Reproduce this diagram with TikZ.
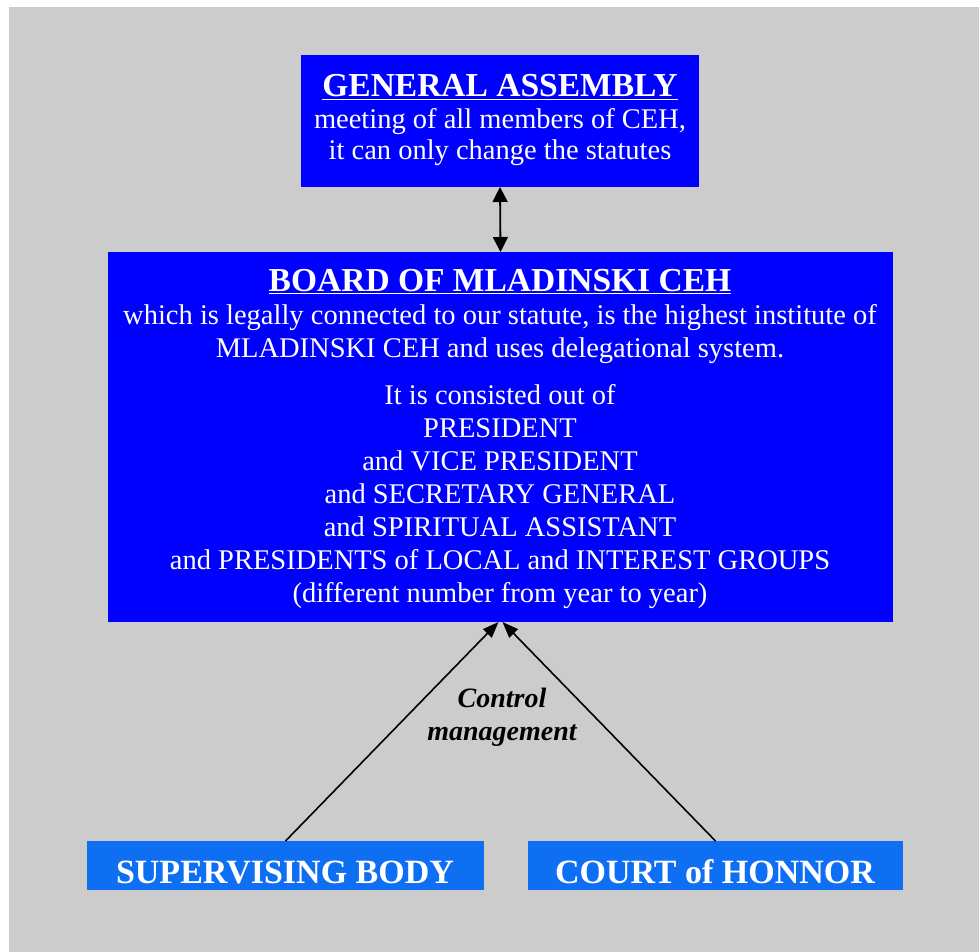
\documentclass[tikz,border=0pt]{standalone}
\usepackage{fontspec}
\setmainfont{Liberation Serif}
\usetikzlibrary{arrows.meta}
\definecolor{bggray}{HTML}{CCCCCC}
\definecolor{boardblue}{HTML}{0000FF}
\definecolor{lightblue}{HTML}{0F6FF2}
\begin{document}
\begin{tikzpicture}[x=1pt,y=-1pt,
  boxbase/.style={anchor=north west, inner sep=0pt, outer sep=0pt},
  darkbox/.style={boxbase, fill=boardblue},
  lightbox/.style={boxbase, fill=lightblue},
  txt/.style={text=white, inner sep=0pt, outer sep=0pt, align=center, anchor=base},
  titlefont/.style={font=\fontsize{34}{33}\selectfont\bfseries},
  arr/.style={line width=1.6pt, draw=black, -{Triangle[length=16pt,width=12pt]}},
  dblarr/.style={line width=1.8pt, draw=black, {Triangle[length=15pt,width=15pt]}-{Triangle[length=15pt,width=15pt]}}
]
\useasboundingbox (0,0) rectangle (979,952);
\fill[white] (0,0) rectangle (979,952);
\fill[bggray] (9,7) rectangle (979,952);

% boxes
\node[darkbox, minimum width=398pt, minimum height=132pt] (ga) at (301,55) {};
\node[darkbox, minimum width=785pt, minimum height=370pt] (board) at (108,252) {};
\node[lightbox, minimum width=397pt, minimum height=49pt] (sup) at (87,841) {};
\node[lightbox, minimum width=375pt, minimum height=49pt] (court) at (528,841) {};

% texts (anchor base = baseline of the last line)
\node[txt, font=\fontsize{28.5}{31.5}\selectfont] (gatext) at (500,160)
  {{\fontsize{33.5}{31.5}\selectfont\bfseries\underline{GENERAL ASSEMBLY}}\\
   meeting of all members of CEH,\\
   it can only change the statutes};
\node[txt, font=\fontsize{28.5}{33}\selectfont] (boardtext) at (500,602)
  {{\fontsize{33.5}{33}\selectfont\bfseries\underline{BOARD OF MLADINSKI CEH}}\\
   which is legally connected to our statute, is the highest institute of\\
   MLADINSKI CEH and uses delegational system.\\[14pt]
   It is consisted out of\\
   PRESIDENT\\
   and VICE PRESIDENT\\
   and SECRETARY GENERAL\\
   and SPIRITUAL ASSISTANT\\
   and PRESIDENTS of LOCAL and INTEREST GROUPS\\
   (different number from year to year)};
\node[txt, titlefont] (suptext) at (285,883) {SUPERVISING BODY};
\node[txt, titlefont] (courttext) at (715,883) {COURT of HONNOR};

% connectors
\draw[dblarr] (ga.south) -- (board.north);
\draw[arr] (sup.north) -- ([xshift=-2pt]board.south);
\draw[arr] (court.north) -- ([xshift=2pt]board.south);
\node[inner sep=0pt, align=center, anchor=base, text=black,
      font=\fontsize{28}{33}\selectfont\bfseries\itshape] (ctrl) at (502,740)
  {Control\\management};
\end{tikzpicture}
\end{document}
